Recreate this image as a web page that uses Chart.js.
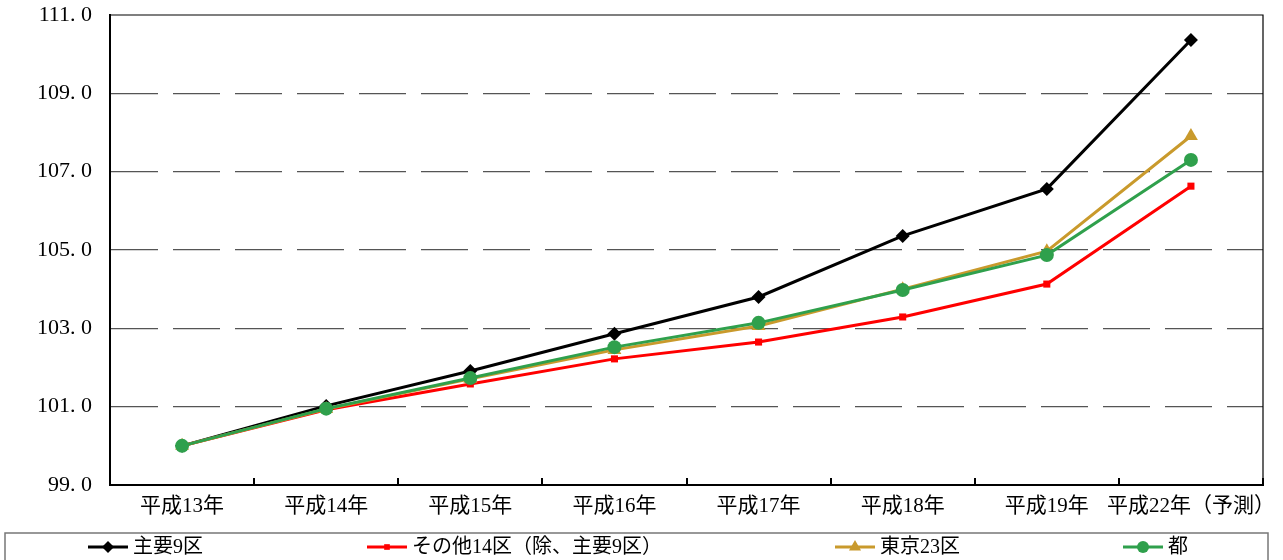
<!DOCTYPE html>
<html><head><meta charset="utf-8">
<script src="https://cdn.jsdelivr.net/npm/chart.js@4"></script>
<style>html,body{margin:0;padding:0;background:#fff}#wrap{width:1283px;height:560px;position:relative}</style>
</head><body><div id="wrap"><canvas id="c"></canvas></div>
<script>
const categories = ['平成13年','平成14年','平成15年','平成16年','平成17年','平成18年','平成19年','平成22年（予測）'];
const seriesNames = ['主要9区','その他14区（除、主要9区）','東京23区','都'];
const major9 = [100.0, 101.02, 101.91, 102.86, 103.80, 105.36, 106.56, 110.36];
const other14 = [100.0, 100.92, 101.58, 102.22, 102.65, 103.29, 104.13, 106.63];
const tokyo23 = [100.0, 100.94, 101.71, 102.45, 103.06, 104.00, 104.97, 107.91];
const metro = [100.0, 100.95, 101.73, 102.52, 103.14, 103.98, 104.87, 107.30];
const yMin = 99, yMax = 111, yStep = 2;

const FONT = '"Liberation Serif", "Noto Sans CJK JP", serif';
const colors = ['#000000', '#FF0000', '#C99A2C', '#2FA04C'];
const styles = ['rectRot', 'rect', 'triangle', 'circle'];
const radii = [7, 5, 8, 7];
const seriesData = [major9, other14, tokyo23, metro];

const datasets = seriesData.map((d, i) => ({
  label: seriesNames[i], data: d, borderColor: colors[i], backgroundColor: colors[i],
  borderWidth: 3, pointStyle: styles[i], pointRadius: radii[i], pointHoverRadius: radii[i],
  pointBorderWidth: 0, tension: 0, order: i === 3 ? -1 : 4 - i
}));

const extras = {
  id: 'extras',
  afterDraw(chart) {
    const {ctx, chartArea: a, scales: {x}} = chart;
    ctx.save();
    ctx.strokeStyle = '#000'; ctx.lineWidth = 1.2;
    ctx.beginPath(); ctx.moveTo(a.left, a.top); ctx.lineTo(a.right, a.top); ctx.lineTo(a.right, a.bottom); ctx.stroke();
    ctx.lineWidth = 2;
    const n = categories.length;
    const w = (x.getPixelForValue(1) - x.getPixelForValue(0));
    for (let i = 0; i <= n; i++) {
      const px = Math.round(x.getPixelForValue(0) - w / 2 + i * w);
      ctx.beginPath(); ctx.moveTo(px, a.bottom); ctx.lineTo(px, a.bottom - 7); ctx.stroke();
    }
    ctx.strokeStyle = '#777'; ctx.lineWidth = 1.5;
    ctx.strokeRect(5, 533, 1263, 40);
    const xs = [88, 367, 835, 1123];
    const cy = 547;
    ctx.font = '20px ' + FONT; ctx.textBaseline = 'middle';
    xs.forEach((lx, i) => {
      ctx.strokeStyle = colors[i]; ctx.lineWidth = 3;
      ctx.beginPath(); ctx.moveTo(lx, cy); ctx.lineTo(lx + 40, cy); ctx.stroke();
      ctx.fillStyle = colors[i];
      Chart.helpers.drawPoint(ctx, {pointStyle: styles[i], radius: radii[i] - 1, borderWidth: 0, rotation: 0}, lx + 20, cy);
      ctx.fillStyle = '#000';
      ctx.fillText(seriesNames[i], lx + 45, cy + 1);
    });
    ctx.restore();
  }
};

new Chart(document.getElementById('c'), {
  type: 'line',
  data: {labels: categories, datasets},
  options: {
    responsive: true, maintainAspectRatio: false, animation: false,
    layout: {padding: {left: 0, right: 20, top: 15, bottom: 0}},
    plugins: {legend: {display: false}, tooltip: {enabled: false}},
    scales: {
      x: {
        offset: true,
        grid: {display: false, drawTicks: false},
        border: {display: true, color: '#000', width: 2},
        ticks: {color: '#000', font: {family: FONT, size: 21}, padding: 9, maxRotation: 0, autoSkip: false},
        afterFit: s => { s.height = 75; s.paddingLeft = 0; s.paddingRight = 0; }
      },
      y: {
        min: yMin, max: yMax,
        grid: {drawTicks: false, lineWidth: 1.3,
          color: c => (c.tick && (c.tick.value === yMin || c.tick.value === yMax)) ? 'rgba(0,0,0,0)' : '#555'},
        border: {display: true, color: '#000', width: 2, dash: [47, 15]},
        ticks: {stepSize: yStep, color: '#000', font: {family: FONT, size: 22}, padding: 18,
          callback: v => v.toFixed(1).replace('.', '. ')},
        afterFit: s => { s.width = 110; s.paddingTop = 0; s.paddingBottom = 0; }
      }
    }
  },
  plugins: [extras]
});
</script></body></html>
